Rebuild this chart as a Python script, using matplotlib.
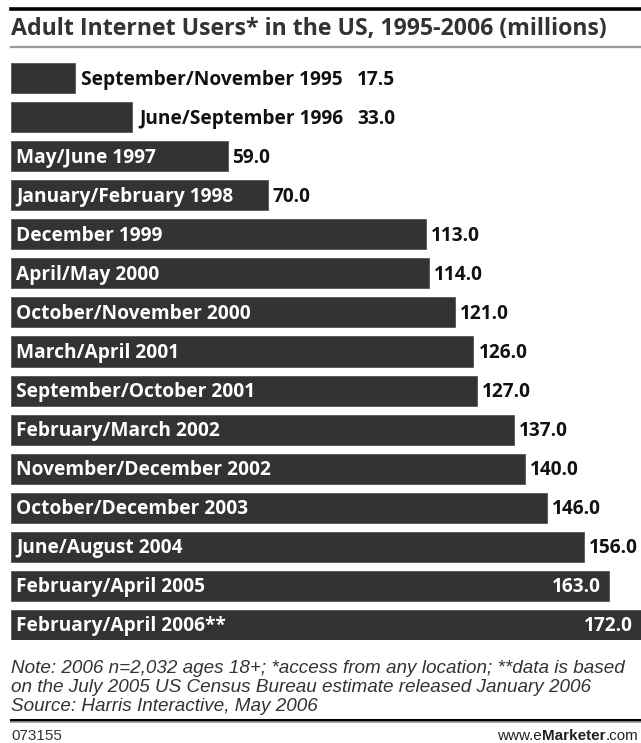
import matplotlib
matplotlib.use("Agg")
import matplotlib.pyplot as plt

# ---- data ----
periods = [
    "September/November 1995", "June/September 1996", "May/June 1997",
    "January/February 1998", "December 1999", "April/May 2000",
    "October/November 2000", "March/April 2001", "September/October 2001",
    "February/March 2002", "November/December 2002", "October/December 2003",
    "June/August 2004", "February/April 2005", "February/April 2006**",
]
users = [17.5, 33.0, 59.0, 70.0, 113.0, 114.0, 121.0, 126.0, 127.0,
         137.0, 140.0, 146.0, 156.0, 163.0, 172.0]
title = "Adult Internet Users* in the US, 1995-2006 (millions)"
notes = [
    "Note: 2006 n=2,032 ages 18+; *access from any location; **data is based",
    "on the July 2005 US Census Bureau estimate released January 2006",
    "Source: Harris Interactive, May 2006",
]
code = "073155"

W, H = 641, 743
fig = plt.figure(figsize=(W / 100, H / 100), dpi=100)
fig.patch.set_facecolor("white")
renderer = fig.canvas.get_renderer()

def fx(x):
    return x / W

def fy(y):
    return 1 - y / H

def width_px(s, **kw):
    t = fig.text(0, 0, s, **kw)
    w = t.get_window_extent(renderer).width
    t.remove()
    return w

def fit(s, target, **kw):
    return 10 * target / width_px(s, fontsize=10, **kw)

BOLD = dict(family="Open Sans", fontweight="bold")
NOTE = dict(family="Liberation Sans", style="italic")
REG = dict(family="Liberation Sans")

# ---- header ----
fig.add_artist(plt.Line2D([fx(11), fx(641)], [fy(8.5), fy(8.5)], color="black", lw=2.6))
ts = fit(title, 599, **BOLD)
fig.text(fx(11), fy(35), title, fontsize=ts, color="#333333", va="baseline", ha="left", **BOLD)
fig.add_artist(plt.Line2D([fx(11), fx(641)], [fy(47), fy(47)], color="#9a9a9a", lw=1.6))

# ---- bars ----
px_per_unit = 3.67
ax_left, ax_right, ax_top, ax_bot = 11, 641, 63, 640
ax = fig.add_axes([fx(ax_left), fy(ax_bot), fx(ax_right) - fx(ax_left), (ax_bot - ax_top) / H])
bh = 30 / 39.07
ypos = list(range(len(users)))
ax.barh(ypos, users, height=bh, color="#333333", edgecolor="#555555", linewidth=0.6)
ax.set_xlim(0, (ax_right - ax_left) / px_per_unit)
ax.set_ylim(len(users) - 1 + bh / 2, -bh / 2)
ax.axis("off")

ls = fit("May/June 1997", 140, **BOLD)
vs = fit("59.0", 38, **BOLD)
base_off = -6.5

outside_label_right = (343 - ax_left) / px_per_unit
outside_value_left = (357 - ax_left) / px_per_unit

for i, (lab, v) in enumerate(zip(periods, users)):
    if i < 2:
        ax.annotate(lab, (outside_label_right, i), xytext=(0, base_off), textcoords="offset pixels",
                    ha="right", va="baseline", fontsize=ls, color="#111111", **BOLD)
        ax.annotate(f"{v:.1f}", (outside_value_left, i), xytext=(0, base_off), textcoords="offset pixels",
                    ha="left", va="baseline", fontsize=vs, color="#111111", **BOLD)
    else:
        ax.annotate(lab, (0, i), xytext=(5, base_off), textcoords="offset pixels",
                    ha="left", va="baseline", fontsize=ls, color="white", **BOLD)
        if i >= 13:
            ax.annotate(f"{v:.1f}", (v, i), xytext=(-8 if i == 13 else -9, base_off), textcoords="offset pixels",
                        ha="right", va="baseline", fontsize=vs, color="white", annotation_clip=False, **BOLD)
        else:
            ax.annotate(f"{v:.1f}", (v, i), xytext=(5, base_off), textcoords="offset pixels",
                        ha="left", va="baseline", fontsize=vs, color="#111111", **BOLD)

# ---- notes ----
ns = fit(notes[0], 615, **NOTE)
for k, line in enumerate(notes):
    fig.text(fx(11), fy(673 + 19 * k), line, fontsize=ns, color="#333333", va="baseline", ha="left", **NOTE)

# ---- footer ----
fig.add_artist(plt.Line2D([fx(11), fx(641)], [fy(719.5), fy(719.5)], color="black", lw=2.2))
fig.add_artist(plt.Line2D([fx(11), fx(641)], [fy(722), fy(722)], color="#9a9a9a", lw=1.2))
cs = fit(code, 51, **REG)
fig.text(fx(11), fy(740), code, fontsize=cs, color="#333333", va="baseline", ha="left", **REG)

parts = [("www.e", dict(**REG)), ("Marketer", dict(family="Liberation Sans", fontweight="bold")), (".com", dict(**REG))]
fs = cs
x = 638
for s, kw in reversed(parts):
    t = fig.text(fx(x), fy(740), s, fontsize=fs, color="#222222", va="baseline", ha="right", **kw)
    x -= t.get_window_extent(renderer).width

fig.savefig("out.png", dpi=100, facecolor="white")
